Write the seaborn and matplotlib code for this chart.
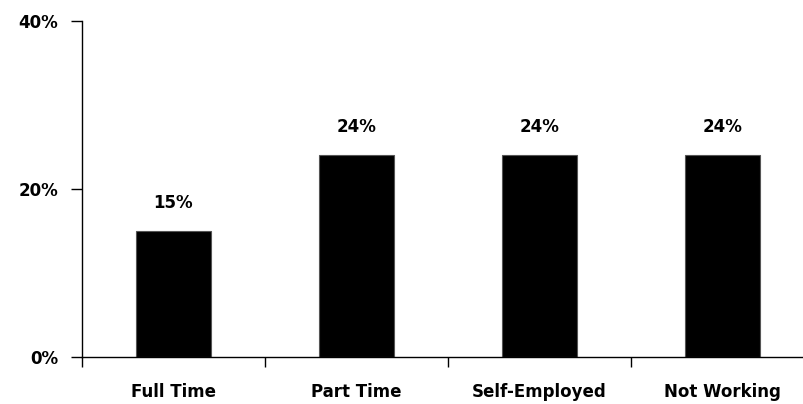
import matplotlib
matplotlib.use("Agg")
import matplotlib.pyplot as plt
import seaborn as sns
import pandas as pd

categories = ["Full Time", "Part Time", "Self-Employed", "Not Working"]
shares = [15, 24, 24, 24]
y_ticks = [0, 20, 40]

sns.set_style("white")
plt.rcParams["font.family"] = ["DejaVu Sans"]
plt.rcParams["text.color"] = "black"
plt.rcParams["xtick.color"] = "black"
plt.rcParams["ytick.color"] = "black"

df = pd.DataFrame({"status": categories, "share": shares})

fig = plt.figure(figsize=(8.04, 4.04), dpi=100)
# axes runs a little past the right edge, as in the reference
ax = fig.add_axes([82 / 804, 47 / 404, 732 / 804, 336 / 404])

sns.barplot(data=df, x="status", y="share", color="black", width=0.41,
            edgecolor="#555555", linewidth=0.8, saturation=1, ax=ax)

# value labels above bars
for i, v in enumerate(shares):
    ax.text(i, v + 2.3, f"{v}%", ha="center", va="bottom",
            fontsize=12, fontweight="bold", color="black")

ax.set_ylim(0, 40)
ax.set_xlim(-0.5, 3.5)
ax.set_yticks(y_ticks)
ax.set_yticklabels([f"{t}%" for t in y_ticks], fontsize=12, fontweight="bold")

# ticks at category boundaries, labels in the middle
ax.set_xticks([-0.5, 0.5, 1.5, 2.5, 3.5])
ax.set_xticklabels([])
ax.set_xticks(range(len(categories)), minor=True)
ax.set_xticklabels(categories, minor=True, fontsize=12, fontweight="bold")
ax.tick_params(axis="x", which="major", direction="out", length=7, width=1, bottom=True)
ax.tick_params(axis="x", which="minor", length=0, pad=19)
ax.tick_params(axis="y", direction="out", length=8, width=1, left=True, pad=9)

ax.set_xlabel("")
ax.set_ylabel("")
sns.despine(ax=ax)
for s in ["left", "bottom"]:
    ax.spines[s].set_color("black")
    ax.spines[s].set_linewidth(1)

fig.savefig("out.png", dpi=100)
